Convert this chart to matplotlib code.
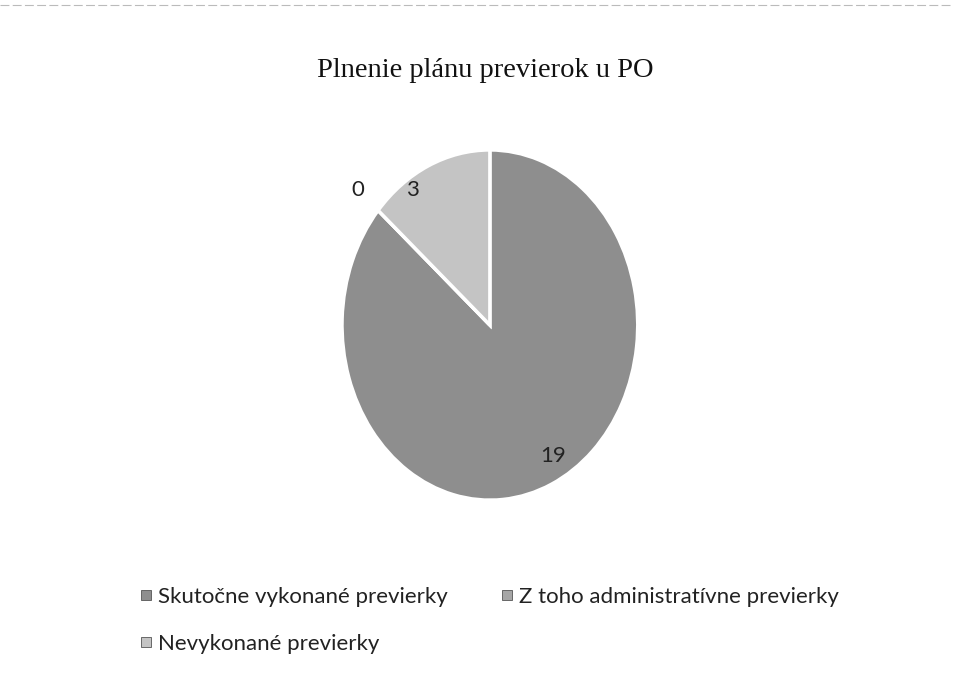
import numpy as np
import matplotlib
matplotlib.use("Agg")
import matplotlib.pyplot as plt
from matplotlib.lines import Line2D

title = "Plnenie plánu previerok u PO"
categories = ["Skutočne vykonané previerky", "Z toho administratívne previerky", "Nevykonané previerky"]
values = [19, 0, 3]
colors = ["#8e8e8e", "#a6a6a6", "#c4c4c4"]

fig = plt.figure(figsize=(9.54, 6.8), dpi=100)
fig.patch.set_facecolor("white")

ax = fig.add_axes([0.3275, 0.213, 0.372, 0.618])
wedges, _ = ax.pie(values, colors=colors, startangle=90, counterclock=False,
                   wedgeprops=dict(edgecolor="white", linewidth=2.5))
ax.set_aspect("auto")
ax.set_xlim(-1.2, 1.2)
ax.set_ylim(-1.2, 1.2)

# data labels
label_font = ["Lato", "DejaVu Sans"]
dist = [0.86, 1.18, 0.93]
offset = [5, 0, 9.5]
for w, v, d, o in zip(wedges, values, dist, offset):
    mid = np.deg2rad((w.theta1 + w.theta2) / 2 + o)
    ax.text(d * np.cos(mid), d * np.sin(mid), str(v), ha="center", va="center",
            fontsize=16, family=label_font, color="#222222")

fig.text(0.509, 0.896, title, ha="center", va="center", fontsize=20.5,
         family=["Liberation Serif", "DejaVu Serif"], color="#111111")

handles = [Line2D([], [], marker="s", linestyle="none", markersize=6.5,
                  markerfacecolor=c, markeredgecolor="#555555", markeredgewidth=0.6)
           for c in colors]
order = [0, 2, 1]  # row-major appearance with ncol=2
leg = fig.legend([handles[i] for i in order], [categories[i] for i in order], ncol=2,
                 loc="upper left", bbox_to_anchor=(0.125, 0.166), frameon=False,
                 prop=dict(family=label_font, size=16), handletextpad=0.25,
                 columnspacing=2.35, labelspacing=1.2, handlelength=0.6)
for t in leg.get_texts():
    t.set_color("#222222")

fig.add_artist(Line2D([0.0, 1.0], [0.993, 0.993], color="#bbbbbb", linewidth=0.8,
                      linestyle=(0, (8, 3)), transform=fig.transFigure))

fig.savefig("out.png", dpi=100)
